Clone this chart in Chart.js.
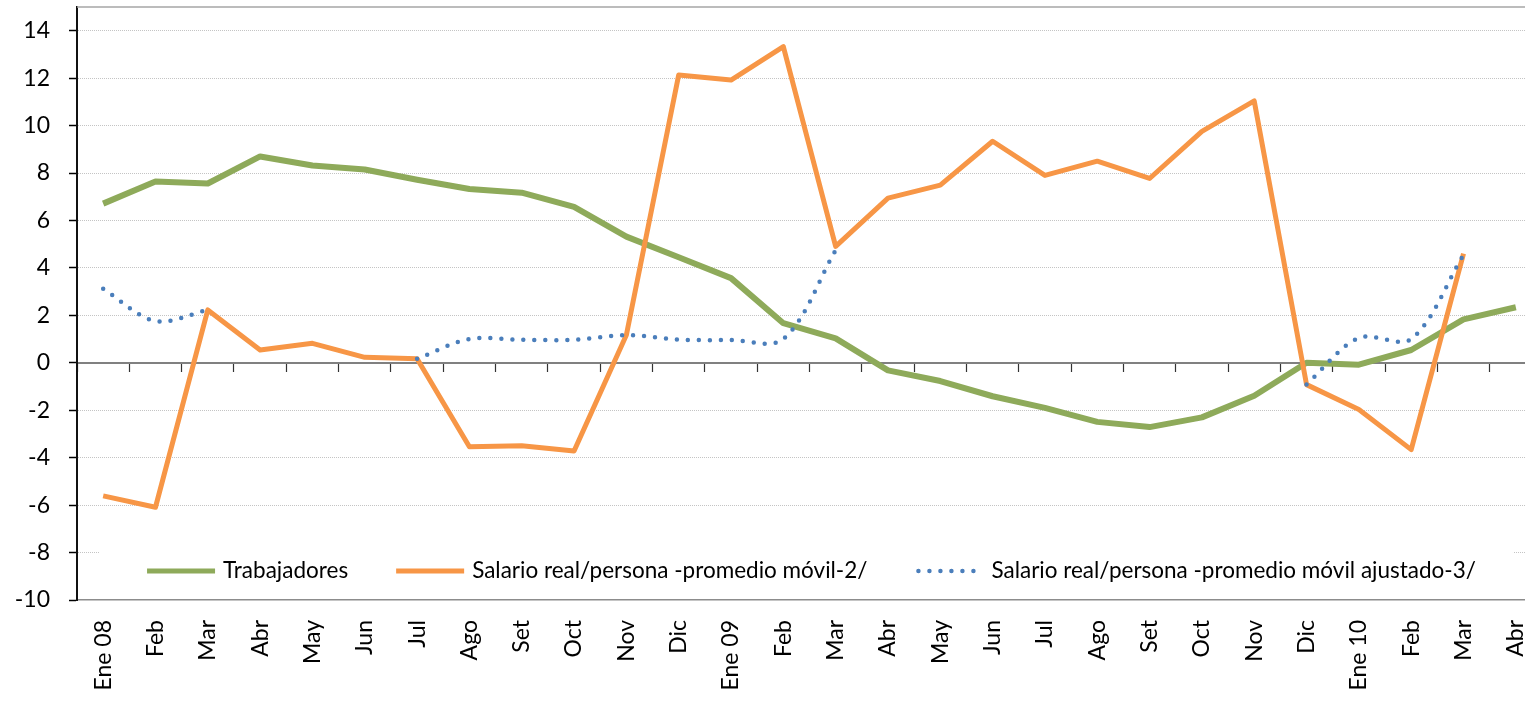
<!DOCTYPE html>
<html lang="es">
<head>
<meta charset="utf-8">
<title>Trabajadores y salario real</title>
<script src="https://cdn.jsdelivr.net/npm/chart.js@4/dist/chart.umd.min.js"></script>
<style>
  html, body { margin: 0; padding: 0; background: #fff; overflow: hidden; }
  #chart { display: block; }
</style>
</head>
<body>
<canvas id="chart" width="1542" height="702"></canvas>
<script>
// DATA
const months = ["Ene 08", "Feb", "Mar", "Abr", "May", "Jun", "Jul", "Ago", "Set", "Oct", "Nov", "Dic",
  "Ene 09", "Feb", "Mar", "Abr", "May", "Jun", "Jul", "Ago", "Set", "Oct", "Nov", "Dic",
  "Ene 10", "Feb", "Mar", "Abr"];

const trabajadores = [6.71, 7.64, 7.56, 8.70, 8.32, 8.15, 7.72, 7.33, 7.17, 6.57, 5.32, 4.45,
  3.57, 1.67, 1.03, -0.32, -0.77, -1.41, -1.90, -2.49, -2.71, -2.30, -1.39, 0.00,
  -0.08, 0.54, 1.83, 2.34];

const salarioMovil = [-5.61, -6.09, 2.23, 0.54, 0.82, 0.23, 0.17, -3.54, -3.50, -3.72, 1.17, 12.13,
  11.92, 13.33, 4.91, 6.94, 7.49, 9.34, 7.90, 8.50, 7.77, 9.76, 11.04, -0.92,
  -1.97, -3.66, 4.60, null];

const salarioAjustado = [3.12, 1.76, 2.23, null, null, null, 0.17, 1.00, 0.97, 0.97, 1.17, 0.98,
  0.96, 1.00, 4.75, null, null, null, null, null, null, null, null, -0.91,
  1.05, 1.00, 4.55, null];

const seriesNames = [
  "Trabajadores",
  "Salario real/persona -promedio móvil-2/",
  "Salario real/persona -promedio móvil ajustado-3/"
];

// y axis: plot runs to 15 but the last label is 14
const yMin = -10;
const yMax = 15;
const yStep = 2;
const yLastTick = 14;

// STYLE
const FONT = "Lato, 'Open Sans', sans-serif";
const GREEN = "#8eaa5a";
const ORANGE = "#f79646";
const BLUE = "#4a7ebb";

// PLUGINS
// thin frame line at the top of the plot area
const topFrame = {
  id: "topFrame",
  afterDraw(chart) {
    const { ctx, chartArea } = chart;
    ctx.save();
    ctx.strokeStyle = "#a6a6a6";
    ctx.lineWidth = 1.5;
    ctx.beginPath();
    ctx.moveTo(chartArea.left, chartArea.top);
    ctx.lineTo(chartArea.right, chartArea.top);
    ctx.stroke();
    ctx.restore();
  }
};

// legend sitting inside the plot, on a white box
const innerLegend = {
  id: "innerLegend",
  beforeDatasetsDraw(chart) {
    const { ctx, chartArea } = chart;
    const sets = chart.data.datasets;
    const lineLen = 68;
    const textGap = 8;
    const itemGap = 48;

    ctx.save();
    ctx.font = "22.5px " + FONT;

    const widths = sets.map(ds => lineLen + textGap + ctx.measureText(ds.label).width);
    const total = widths.reduce((a, b) => a + b, 0) + itemGap * (sets.length - 1);

    const cx = (chartArea.left + chartArea.right) / 2;
    let x = cx - total / 2 + 2;
    const y = chartArea.bottom - 29;

    // white box hides the -8 grid line, stops above the bottom axis line
    ctx.fillStyle = "#fff";
    ctx.fillRect(x - 48, y - 34, total + 48 + 37, 60);

    sets.forEach((ds, i) => {
      ctx.strokeStyle = ds.borderColor;
      ctx.lineWidth = ds.legendWidth;
      ctx.lineCap = ds.borderDash ? "round" : "butt";
      ctx.setLineDash(ds.borderDash || []);
      ctx.beginPath();
      ctx.moveTo(x + (ds.borderDash ? 3 : 0), y);
      ctx.lineTo(x + lineLen - (ds.borderDash ? 3 : 0), y);
      ctx.stroke();
      ctx.setLineDash([]);

      ctx.fillStyle = "#000";
      ctx.textBaseline = "middle";
      ctx.textAlign = "left";
      ctx.fillText(ds.label, x + lineLen + textGap, y);

      x += widths[i] + itemGap;
    });
    ctx.restore();
  }
};

// CHART
const ctx = document.getElementById("chart").getContext("2d");

new Chart(ctx, {
  type: "line",
  data: {
    labels: months,
    datasets: [
      {
        label: seriesNames[0],
        data: trabajadores,
        borderColor: GREEN,
        borderWidth: 6,
        legendWidth: 5,
        pointRadius: 0,
        tension: 0,
        borderJoinStyle: "round",
        order: 3
      },
      {
        label: seriesNames[1],
        data: salarioMovil,
        borderColor: ORANGE,
        borderWidth: 5,
        legendWidth: 5,
        pointRadius: 0,
        tension: 0,
        borderJoinStyle: "round",
        spanGaps: false,
        order: 2
      },
      {
        label: seriesNames[2],
        data: salarioAjustado,
        borderColor: BLUE,
        borderWidth: 4.5,
        legendWidth: 4.5,
        borderDash: [0, 11],
        borderCapStyle: "round",
        pointRadius: 0,
        tension: 0.33,
        spanGaps: false,
        order: 1
      }
    ]
  },
  options: {
    responsive: false,
    devicePixelRatio: 1,
    animation: false,
    layout: { padding: { top: 7, left: 0, right: 0, bottom: 0 }, autoPadding: false },
    plugins: {
      legend: { display: false },
      tooltip: { enabled: false }
    },
    scales: {
      x: {
        type: "category",
        position: "bottom",
        offset: true,
        grid: { display: false, drawTicks: false },
        border: { display: true, color: "#8c8c8c", width: 1.5 },
        ticks: {
          autoSkip: false,
          minRotation: 90,
          maxRotation: 90,
          padding: 20,
          color: "#000",
          font: { family: FONT, size: 23 }
        },
        afterFit(scale) {
          scale.height = 102;
          scale.paddingLeft = 0;
          scale.paddingRight = 0;
        }
      },
      xZero: {
        type: "category",
        labels: months,
        position: { y: 0 },
        offset: true,
        grid: {
          drawOnChartArea: false,
          drawTicks: true,
          tickLength: 8,
          tickColor: "#333",
          tickWidth: 1.2,
          offset: true
        },
        border: { display: true, color: "#808080", width: 2 },
        ticks: { display: false }
      },
      y: {
        min: yMin,
        max: yMax,
        position: "left",
        afterBuildTicks(scale) {
          const ticks = [];
          for (let v = yMin; v <= yLastTick; v += yStep) ticks.push({ value: v });
          scale.ticks = ticks;
        },
        afterFit(scale) {
          scale.width = 77;
          scale.paddingTop = 0;
          scale.paddingBottom = 0;
        },
        ticks: {
          stepSize: yStep,
          padding: 19,
          color: "#000",
          font: { family: FONT, size: 23 }
        },
        grid: {
          color: c => (c.tick && (c.tick.value === 0 || c.tick.value === yMin)) ? "rgba(0,0,0,0)" : "#c4c4c4",
          lineWidth: 1,
          drawTicks: true,
          tickLength: 8,
          tickColor: "#000",
          tickWidth: 1.5
        },
        border: { display: true, color: "#111", width: 2, dash: [1, 1] }
      }
    }
  },
  plugins: [topFrame, innerLegend]
});
</script>
</body>
</html>
